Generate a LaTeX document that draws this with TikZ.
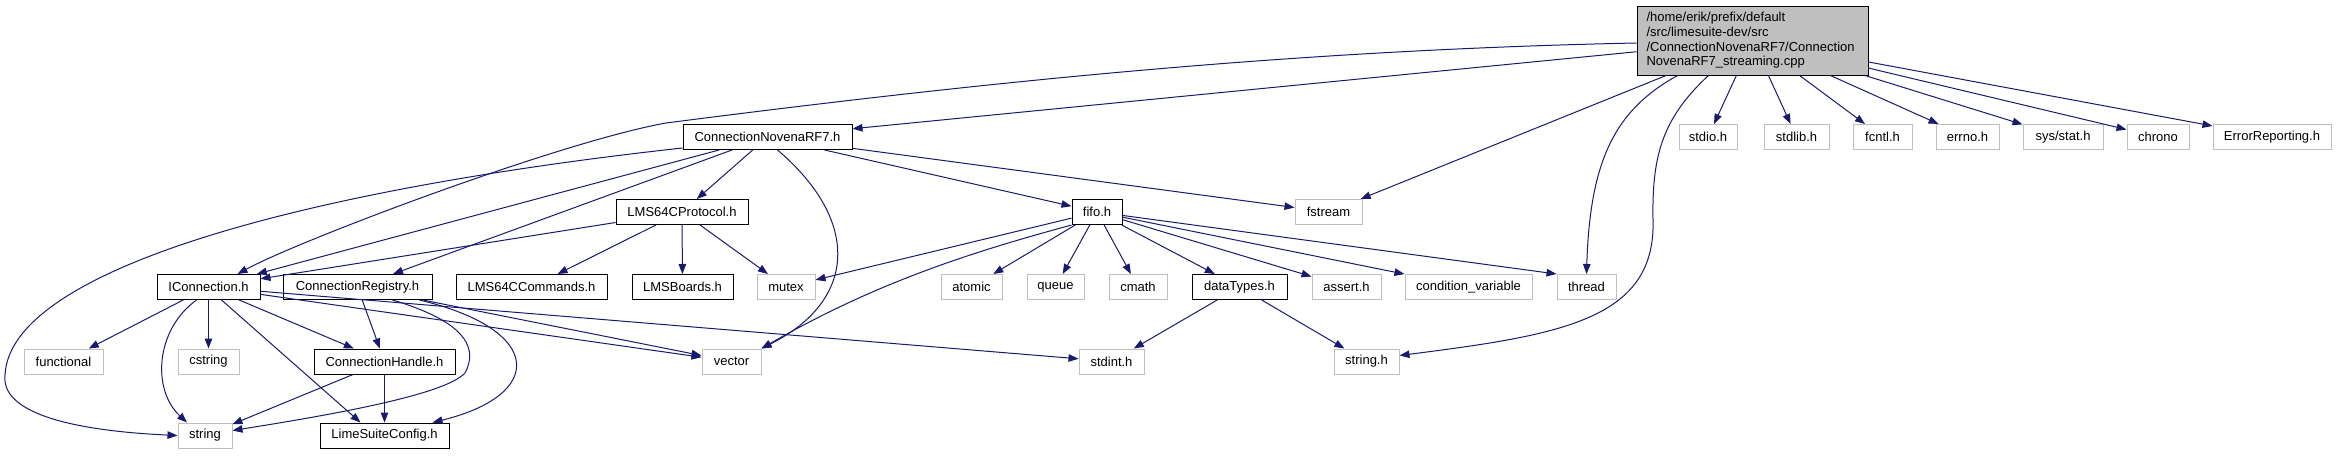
\documentclass[tikz,border=0pt]{standalone}
\usepackage{fontspec}
\setmainfont{Liberation Sans}
\usetikzlibrary{arrows.meta}
\definecolor{depblue}{RGB}{25,25,112}
\definecolor{boxgray}{RGB}{191,191,191}
\tikzset{
  filebox/.style={draw=black, line width=1pt, fill=white, minimum height=25pt, inner sep=0pt, font=\fontsize{13}{15}\selectfont},
  sysbox/.style={filebox, draw=boxgray},
  mainbox/.style={filebox, fill=boxgray, text width=212pt, inner xsep=9.5pt, minimum height=69pt, font=\fontsize{13}{14.7}\selectfont},
  dep/.style={depblue, line width=1pt, -{Triangle[length=10pt,width=7.5pt]}}
}

\begin{document}
\begin{tikzpicture}[x=1pt,y=-1pt]
  \useasboundingbox (0,0) rectangle (2336,455);
  \def\yun{137}
  \def\ydeux{212}
  \def\ytrois{287}
  \def\yquatre{361.5}
  \def\ycinq{435.5}

  % fichier source
  \node[mainbox] (main) at (1752.5,40.5) {{\raggedright /home/erik/prefix/default\\/src/limesuite-dev/src\\/ConnectionNovenaRF7/Connection\par}\centering NovenaRF7\_streaming.cpp};

  % en-têtes du projet
  \node[filebox,minimum width=169] (cnrf7) at (767.5,\yun) {ConnectionNovenaRF7.h};
  \node[filebox,minimum width=132] (lmsproto) at (682,\ydeux) {LMS64CProtocol.h};
  \node[filebox,minimum width=50] (fifo) at (1097,\ydeux) {fifo.h};
  \node[filebox,minimum width=103] (iconn) at (208.5,\ytrois) {IConnection.h};
  \node[filebox,minimum width=149] (connreg) at (357.5,\ytrois) {ConnectionRegistry.h};
  \node[filebox,minimum width=151] (lmscmd) at (531.5,\ytrois) {LMS64CCommands.h};
  \node[filebox,minimum width=101] (lmsboards) at (682.5,\ytrois) {LMSBoards.h};
  \node[filebox,minimum width=95] (datatypes) at (1239.5,\ytrois) {dataTypes.h};
  \node[filebox,minimum width=141] (connhandle) at (384.5,\yquatre) {ConnectionHandle.h};
  \node[filebox,minimum width=129] (limecfg) at (384.5,\ycinq) {LimeSuiteConfig.h};

  % en-têtes système
  \foreach \nom/\x/\w/\txt in {stdio/1708/58/stdio.h, stdlib/1796.5/65/stdlib.h, fcntl/1882.5/59/fcntl.h,
      errno/1967.5/63/errno.h, sysstat/2063/80/{sys/stat.h}, chrono/2158/62/chrono, errrep/2272/118/ErrorReporting.h}
    \node[sysbox,minimum width=\w] (\nom) at (\x,\yun) {\txt};
  \node[sysbox,minimum width=67] (fstream) at (1328.5,\ydeux) {fstream};
  \foreach \nom/\x/\w/\txt in {mutex/786/58/mutex, atomic/971.5/61/atomic, queue/1055.5/57/queue, cmath/1138/58/cmath,
      asserth/1346.5/69/assert.h, condvar/1468.5/127/condition\_variable, thread/1586.5/59/thread}
    \node[sysbox,minimum width=\w] (\nom) at (\x,\ytrois) {\txt};
  \foreach \nom/\x/\w/\txt in {functional/63.5/79/functional, cstring/208.5/61/cstring, vector/731.5/59/vector,
      stdint/1111.5/65/stdint.h, stringh/1366.5/65/string.h}
    \node[sysbox,minimum width=\w] (\nom) at (\x,\yquatre) {\txt};
  \node[sysbox,minimum width=54] (string) at (205,\ycinq) {string};

  % inclusions du fichier source
  \draw[dep] (main) -- (cnrf7);
  \draw[dep] ([yshift=-2.5]main.west) .. controls (1300,50) and (1000,80) .. (666,123) .. controls (560,142) and (300,240) .. ([xshift=29]iconn.north);
  \draw[dep] (main) -- (fstream);
  \draw[dep] ([xshift=-75]main.south) .. controls (1615,110) and (1590,160) .. (thread.north);
  \draw[dep] ([xshift=-44]main.south) .. controls (1660,120) and (1652,160) .. (1653,220) .. controls (1656,320) and (1560,335) .. ([yshift=6]stringh.east);
  \foreach \n in {stdio,stdlib,fcntl,errno,sysstat,chrono,errrep}
    \draw[dep] (main) -- (\n);

  % ConnectionNovenaRF7.h
  \draw[dep] ([yshift=2]cnrf7.south west) .. controls (300,190) and (10,270) .. (5,375) .. controls (0,420) and (100,432) .. (string.west);
  \foreach \n in {iconn,connreg,lmsproto,fifo,fstream}
    \draw[dep] (cnrf7) -- (\n);
  \draw[dep] ([xshift=10]cnrf7.south) .. controls (860,220) and (858,300) .. (vector.north east);

  % LMS64CProtocol.h
  \foreach \n in {iconn,lmscmd,lmsboards,mutex}
    \draw[dep] (lmsproto) -- (\n);

  % IConnection.h
  \foreach \n in {functional,cstring,connhandle,vector,stdint}
    \draw[dep] (iconn) -- (\n);
  \draw[dep] ([xshift=-12]iconn.south) .. controls (155,330) and (152,390) .. ([xshift=-18]string.north);
  \draw[dep] ([xshift=13]iconn.south) -- ([xshift=-24]limecfg.north);

  % ConnectionRegistry.h
  \draw[dep] (connreg) -- (connhandle);
  \draw[dep] (connreg) -- (vector);
  \draw[dep] ([xshift=35]connreg.south) .. controls (460,320) and (480,345) .. (465,373) .. controls (445,395) and (330,415) .. ([yshift=5]string.east);
  \draw[dep] ([xshift=62]connreg.south) .. controls (545,330) and (545,395) .. ([xshift=48]limecfg.north);

  % ConnectionHandle.h
  \draw[dep] (connhandle) -- (string);
  \draw[dep] (connhandle) -- (limecfg);

  % fifo.h
  \foreach \n in {mutex,atomic,queue,cmath,datatypes,asserth,condvar}
    \draw[dep] (fifo) -- (\n);
  \draw[dep] (fifo) -- (thread.north west);
  \draw[dep] (fifo.south west) .. controls (980,250) and (880,280) .. (vector.north east);

  % dataTypes.h
  \draw[dep] (datatypes) -- (stdint);
  \draw[dep] (datatypes) -- (stringh);
\end{tikzpicture}
\end{document}
